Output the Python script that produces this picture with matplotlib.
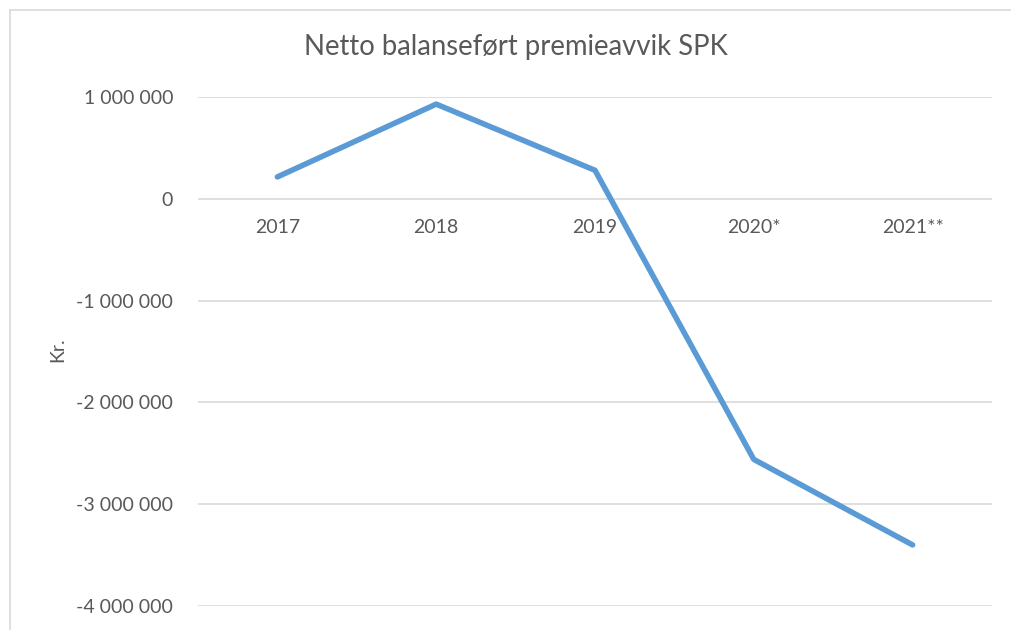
import matplotlib
matplotlib.use("Agg")
import matplotlib.pyplot as plt
from matplotlib.lines import Line2D

categories = ["2017", "2018", "2019", "2020*", "2021**"]
values = [215000, 930000, 280000, -2560000, -3400000]
yticks = [1000000, 0, -1000000, -2000000, -3000000, -4000000]
title = "Netto balanseført premieavvik SPK"
ylabel = "Kr."

def fmt(v):
    s = f"{abs(v):,}".replace(",", " ")
    return ("-" if v < 0 else "") + s

plt.rcParams['font.family'] = ['Lato', 'DejaVu Sans']
W, H = 1011, 630
fig = plt.figure(figsize=(W / 100, H / 100), dpi=100)
fig.patch.set_facecolor("white")

# outer chart border (only top and left edges visible in the crop)
bx, by = 10 / W, 1 - 10 / H
fig.add_artist(Line2D([bx, 1.0], [by, by], transform=fig.transFigure,
                      color="#D9D9D9", linewidth=1.2))
fig.add_artist(Line2D([bx, bx], [0.0, by], transform=fig.transFigure,
                      color="#D9D9D9", linewidth=1.2))

left, right = 198 / W, 992 / W
bottom, top = 1 - 606 / H, 1 - 97 / H
ax = fig.add_axes([left, bottom, right - left, top - bottom])
x = list(range(len(categories)))
ax.set_xlim(-0.5, len(categories) - 0.5)
ax.set_ylim(-4000000, 1000000)
for sp in ax.spines.values():
    sp.set_visible(False)
ax.set_yticks(yticks)
ax.set_yticklabels([fmt(v) for v in yticks], color="#595959", fontsize=14)
ax.tick_params(axis="y", length=0, pad=18)
ax.set_xticks([])
ax.grid(axis="y", color="#D9D9D9", linewidth=1.2)
ax.set_axisbelow(True)

ax.plot(x, values, color="#5B9BD5", linewidth=4.0, solid_capstyle="round",
        solid_joinstyle="round", clip_on=False, zorder=3)

for i, c in enumerate(categories):
    ax.annotate(c, (i, 0), xytext=(0, -21), textcoords="offset points",
                ha="center", va="center", fontsize=14, color="#595959")

fig.text(516 / W, 1 - 47 / H, title, ha="center", va="center", fontsize=19.8, color="#595959")
fig.text(58 / W, 1 - 350 / H, ylabel, ha="center", va="center", rotation=90, fontsize=14, color="#595959")

fig.savefig("out.png", dpi=100, facecolor="white")
